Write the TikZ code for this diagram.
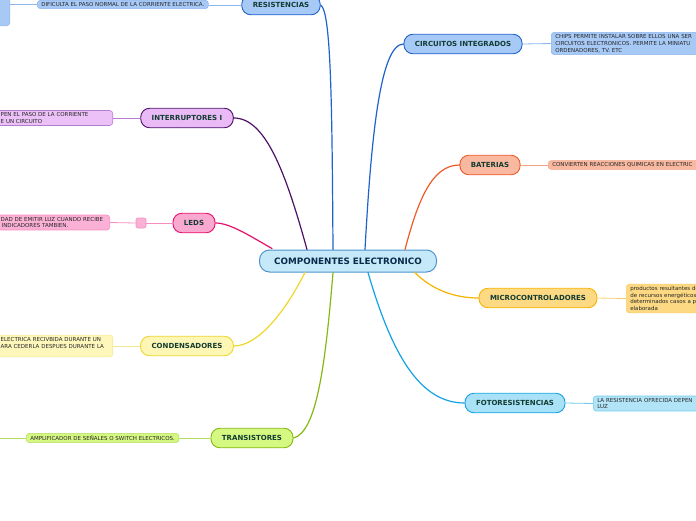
\documentclass[tikz,border=0pt]{standalone}
\usepackage{fontspec}
\setmainfont{DejaVu Sans}
\definecolor{mainfill}{HTML}{C5E9F9}
\definecolor{maindraw}{HTML}{4E94CC}
\definecolor{maintext}{HTML}{0A2A4A}
\definecolor{temtext}{HTML}{123C32}
\definecolor{resfill}{HTML}{A7C9F6}
\definecolor{resdraw}{HTML}{2062CC}
\definecolor{resline}{HTML}{8DB5EE}
\definecolor{intfill}{HTML}{E9BAF6}
\definecolor{intdraw}{HTML}{4C1068}
\definecolor{intline}{HTML}{B57CCF}
\definecolor{ledfill}{HTML}{F9A8D0}
\definecolor{leddraw}{HTML}{E6106C}
\definecolor{ledline}{HTML}{F58DBF}
\definecolor{confill}{HTML}{FDF6B4}
\definecolor{condraw}{HTML}{F0D52A}
\definecolor{conline}{HTML}{F5E88E}
\definecolor{trafill}{HTML}{D5F883}
\definecolor{tradraw}{HTML}{85B812}
\definecolor{traline}{HTML}{B4DD60}
\definecolor{batfill}{HTML}{F9B8A0}
\definecolor{batdraw}{HTML}{F05A28}
\definecolor{batline}{HTML}{F4A483}
\definecolor{micfill}{HTML}{FDD984}
\definecolor{micdraw}{HTML}{F5B400}
\definecolor{micline}{HTML}{F8CE6A}
\definecolor{fotfill}{HTML}{A9E1F7}
\definecolor{fotdraw}{HTML}{12A2E2}
\definecolor{fotline}{HTML}{70CAEE}
\begin{document}
\begin{tikzpicture}[x=1pt, y=-1pt,
  centro/.style={draw=maindraw, line width=1pt, rounded corners=10pt, fill=mainfill,
    minimum width=177pt, minimum height=22pt, inner sep=0pt,
    font=\bfseries\fontsize{8.8}{10}\selectfont, text=maintext},
  tema/.style args={#1/#2}{draw=#2, fill=#1, line width=0.9pt, rounded corners=9pt,
    minimum height=19.5pt, inner xsep=11pt, inner ysep=0pt,
    font=\bfseries\fontsize{7}{8}\selectfont, text=temtext},
  hoja/.style args={#1/#2}{draw=#2, fill=#1, line width=0.6pt, rounded corners=3pt,
    inner xsep=4pt, inner ysep=2pt, align=left,
    font=\fontsize{5.5}{6.8}\selectfont, text=black!85},
  rama/.style={line width=1.2pt, line cap=round},
  enlace/.style={line width=0.8pt}]
  \useasboundingbox (0,0) rectangle (696,520);
  \clip (0,0) rectangle (696,520);

  % Central topic
  \node[centro] (main) at (348,261) {COMPONENTES ELECTRONICO};

  % Left branches
  \node[tema={resfill/resdraw}] (resist) at (281,5) {RESISTENCIAS};
  \node[hoja={resfill/resline}, anchor=west] (resleaf) at (37,4.5)
    {DIFICULTA EL PASO NORMAL DE LA CORRIENTE ELECTRICA.};
  \node[hoja={resfill/resline}, anchor=south east,
    minimum width=40pt, minimum height=40pt] (resfar) at (10,26) {};

  \node[tema={intfill/intdraw}] (interr) at (187,118) {INTERRUPTORES I};
  \node[hoja={intfill!90!white/intline}, anchor=east, text width=108pt] (intleaf) at (113,118)
    {PEN EL PASO DE LA CORRIENTE\\E UN CIRCUITO};

  \node[tema={ledfill/leddraw}] (leds) at (194,223) {LEDS};
  \node[hoja={ledfill!90!white/ledline}, anchor=east, text width=106pt, inner xsep=3pt] (ledleaf) at (110,222.5)
    {DAD DE EMITIR LUZ CUANDO RECIBE\\\hspace*{1pt}INDICADORES TAMBIEN.};
  \node[draw=ledline, fill=ledfill!90!white, line width=0.6pt, rounded corners=2pt,
    minimum size=10pt, inner sep=0pt] (ledbox) at (141,223) {};

  \node[tema={confill/condraw}] (conden) at (187,346) {CONDENSADORES};
  \node[hoja={confill!90!white/conline}, anchor=east, text width=108pt] (conleaf) at (113,346)
    {ELECTRICA RECIVBIDA DURANTE UN\\ARA CEDERLA DESPUES DURANTE LA\\\mbox{}};

  \node[tema={trafill/tradraw}] (trans) at (252,438) {TRANSISTORES};
  \node[hoja={trafill/traline}, anchor=west] (traleaf) at (26,438)
    {AMPLIFICADOR DE SEÑALES O SWITCH ELECTRICOS.};
  \coordinate (trafar) at (-5,438);

  % Right branches
  \node[tema={resfill/resdraw}] (circ) at (463,44) {CIRCUITOS INTEGRADOS};
  \node[hoja={resfill/resline}, anchor=west, text width=160pt] (cirleaf) at (551,43.5)
    {CHIPS PERMITE INSTALAR SOBRE ELLOS UNA SER\\CIRCUITOS ELECTRONICOS. PERMITE LA MINIATU\\ORDENADORES, TV. ETC};

  \node[tema={batfill/batdraw}] (bat) at (490,165) {BATERIAS};
  \node[hoja={batfill/batline}, anchor=west, text width=160pt] (batleaf) at (548,165)
    {CONVIERTEN REACCIONES QUIMICAS EN ELECTRIC};

  \node[tema={micfill/micdraw}] (micro) at (538,298) {MICROCONTROLADORES};
  \node[hoja={micfill/micline}, anchor=west, text width=100pt] (micleaf) at (626,298.5)
    {productos resultantes de\\de recursos energéticos\\determinados casos a p\\elaborada};

  \node[tema={fotfill/fotdraw}] (foto) at (515,403) {FOTORESISTENCIAS};
  \node[hoja={fotfill!90!white/fotline}, anchor=west, text width=120pt] (fotleaf) at (593,403.5)
    {LA RESISTENCIA OFRECIDA DEPEN\\LUZ};

  % Branches from the central topic
  \draw[rama, resdraw] ([xshift=-15pt]main.north) .. controls (332,100) and (331,12) .. (resist.east);
  \draw[rama, intdraw] ([xshift=-41pt]main.north) .. controls (285,170) and (265,118) .. (interr.east);
  \draw[rama, leddraw] ([xshift=-76pt,yshift=1pt]main.north) .. controls (250,236) and (230,223) .. (leds.east);
  \draw[rama, condraw] ([xshift=-43pt]main.south) .. controls (285,312) and (258,346) .. (conden.east);
  \draw[rama, tradraw] ([xshift=-15pt]main.south) .. controls (325,370) and (316,432) .. (trans.east);
  \draw[rama, resdraw] ([xshift=17pt]main.north) .. controls (371,140) and (380,44) .. (circ.west);
  \draw[rama, batdraw] ([xshift=57pt]main.north) .. controls (418,200) and (432,165) .. (bat.west);
  \draw[rama, micdraw] ([xshift=67pt]main.south) .. controls (432,290) and (455,298) .. (micro.west);
  \draw[rama, fotdraw] ([xshift=20pt]main.south) .. controls (392,355) and (420,403) .. (foto.west);

  % Links to the notes
  \draw[enlace, resline] (resist.west) -- (resist.west -| resleaf.east);
  \draw[enlace, resline] (resleaf.west) -- (resleaf.west -| resfar.east);
  \draw[enlace, intline] (interr.west) -- (intleaf.east);
  \draw[enlace, ledline] (leds.west) -- (ledbox.east);
  \draw[enlace, ledline] (ledbox.west) -- (ledleaf.east);
  \draw[enlace, conline] (conden.west) -- (conleaf.east);
  \draw[enlace, traline] (trans.west) -- (traleaf.east);
  \draw[enlace, traline] (traleaf.west) -- (trafar);
  \draw[enlace, resline] (circ.east) -- (cirleaf.west);
  \draw[enlace, batline] (bat.east) -- (batleaf.west);
  \draw[enlace, micline] (micro.east) -- (micleaf.west);
  \draw[enlace, fotline] (foto.east) -- (fotleaf.west);
\end{tikzpicture}
\end{document}
